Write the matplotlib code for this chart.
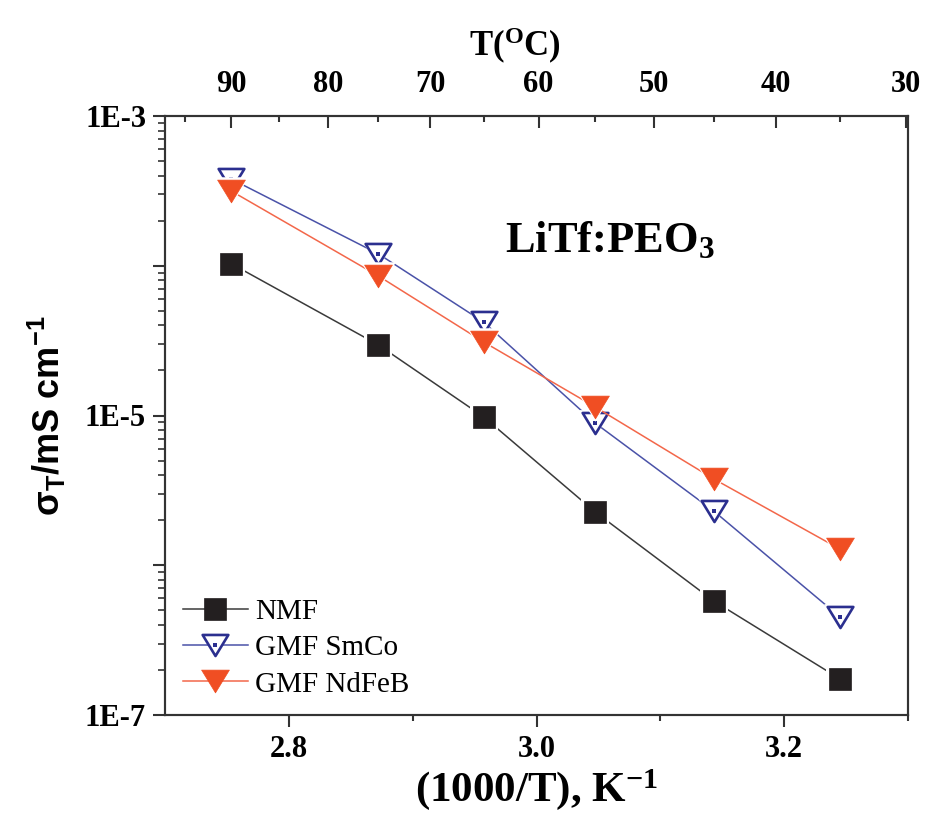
import numpy as np
import matplotlib
matplotlib.use("Agg")
import matplotlib.pyplot as plt
from matplotlib.path import Path
from matplotlib.lines import Line2D
from matplotlib.legend_handler import HandlerTuple
from matplotlib.font_manager import FontProperties

# Measurement temperatures (deg C) and conductivities (mS/cm)
temps_c = [90, 75, 65, 55, 45, 35]
nmf = [1.03e-4, 2.96e-5, 9.8e-6, 2.27e-6, 5.77e-7, 1.74e-7]
gmf_smco = [3.79e-4, 1.20e-4, 4.21e-5, 8.9e-6, 2.30e-6, 4.51e-7]
gmf_ndfeb = [3.15e-4, 8.55e-5, 3.10e-5, 1.14e-5, 3.77e-6, 1.28e-6]

top_major_c = [90, 80, 70, 60, 50, 40, 30]
top_minor_c = [95, 85, 75, 65, 55, 45, 35]
y_major = [1e-7, 1e-6, 1e-5, 1e-4, 1e-3]
y_major_labels = ["1E-7", "", "1E-5", "", "1E-3"]

inv_t = 1000.0 / (np.array(temps_c) + 273.15)

plt.rcParams["font.family"] = ["Liberation Serif", "DejaVu Serif"]
plt.rcParams["font.weight"] = "bold"

BLACK = "#231f20"
BLACK_LINE = "#3a3a3a"
BLUE = "#2b2f8f"
BLUE_LINE = "#4a52a8"
RED = "#f04e23"
RED_LINE = "#f3674a"
AXC = "#333333"

# wide, flat triangle (Origin style)
tri = Path([(-1.0, 0.82), (1.0, 0.82), (0.0, -0.82), (-1.0, 0.82)],
           [Path.MOVETO, Path.LINETO, Path.LINETO, Path.CLOSEPOLY])

fig = plt.figure(figsize=(9.25, 8.16), dpi=100)
ax = fig.add_axes([165 / 925, 1 - 715 / 816, (908 - 165) / 925, (715 - 116) / 816])
ax.set_yscale("log")

def series(y, line_c, marker, ms, face, edge, mew, z):
    ax.plot(inv_t, y, "-", color=line_c, lw=1.1, zorder=z)
    ax.plot(inv_t, y, ls="none", marker=marker, ms=ms + 5, mfc="white",
            mec="white", mew=0, zorder=z + 0.1)
    ax.plot(inv_t, y, ls="none", marker=marker, ms=ms, mfc=face,
            mec=edge, mew=mew, zorder=z + 0.2)

series(nmf, BLACK_LINE, "s", 15.5, BLACK, BLACK, 0.5, 3)
series(gmf_smco, BLUE_LINE, tri, 18.5, "white", BLUE, 1.9, 4)
ax.plot(inv_t, gmf_smco, ls="none", marker="s", ms=2.3, mfc=BLUE, mec=BLUE,
        mew=0, zorder=4.3)
series(gmf_ndfeb, RED_LINE, tri, 20, RED, RED, 0.5, 5)

ax.set_xlim(2.7, 3.3)
ax.set_ylim(1e-7, 1e-3)
ax.set_xticks([2.8, 3.0, 3.2])
ax.set_xticklabels(["2.8", "3.0", "3.2"])
ax.set_xticks([2.9, 3.1, 3.3], minor=True)
ax.set_yticks(y_major)
ax.set_yticklabels(y_major_labels)
ax.yaxis.set_minor_locator(matplotlib.ticker.LogLocator(base=10, subs=np.arange(2, 10)))
ax.yaxis.set_minor_formatter(matplotlib.ticker.NullFormatter())

for s in ax.spines.values():
    s.set_linewidth(1.5)
    s.set_color(AXC)

ax.tick_params(axis="x", which="major", direction="out", length=8.6, width=1.5,
               color=AXC, labelsize=22, pad=6, top=False)
ax.tick_params(axis="x", which="minor", direction="out", length=4.3, width=1.5,
               color=AXC, top=False)
ax.tick_params(axis="y", which="major", direction="out", length=8.6, width=1.5,
               color=AXC, labelsize=22, pad=5, right=False)
ax.tick_params(axis="y", which="minor", direction="out", length=5, width=1.2,
               color=AXC, right=False)

ax.set_xlabel(r"(1000/T), $\mathregular{K^{-1}}$", fontsize=31,
              fontweight="bold", labelpad=2)
ax.set_ylabel(r"$\mathregular{σ_T}$/mS $\mathregular{cm^{-1}}$", fontsize=26,
              fontweight="bold", family=["Liberation Sans", "DejaVu Sans"],
              labelpad=12)

# temperature scale on top
ax2 = ax.twiny()
ax2.set_xlim(ax.get_xlim())
ax2.set_xticks(1000.0 / (np.array(top_major_c) + 273.15))
ax2.set_xticklabels([str(t) for t in top_major_c])
minor_top = 1000.0 / (np.array(top_minor_c) + 273.15)
ax2.set_xticks(minor_top[(minor_top > 2.7) & (minor_top < 3.3)], minor=True)
ax2.tick_params(axis="x", which="major", direction="in", length=8.6, width=1.5,
                color=AXC, labelsize=22, pad=12)
ax2.tick_params(axis="x", which="minor", direction="in", length=4.3, width=1.5,
                color=AXC)
ax2.set_xlabel(r"$\mathregular{T(^{O}C)}$", fontsize=25, fontweight="bold")
ax2.xaxis.set_label_coords(0.471, 1.1)
for s in ax2.spines.values():
    s.set_linewidth(1.5)
    s.set_color(AXC)

ax.text(0.457, 0.773, r"LiTf:PE$\mathregular{O_3}$", transform=ax.transAxes,
        fontsize=32, fontweight="bold", ha="left", va="baseline")

# legend
h_nmf = Line2D([], [], color=BLACK_LINE, lw=1.1, marker="s", ms=15.5,
               mfc=BLACK, mec=BLACK, mew=0.5)
h_smco = Line2D([], [], color=BLUE_LINE, lw=1.1, marker=tri, ms=18.5,
                mfc="white", mec=BLUE, mew=1.9)
h_dot = Line2D([], [], ls="none", marker="s", ms=2.3, mfc=BLUE, mec=BLUE, mew=0)
h_nd = Line2D([], [], color=RED_LINE, lw=1.1, marker=tri, ms=20,
              mfc=RED, mec=RED, mew=0.5)
leg = ax.legend([h_nmf, (h_smco, h_dot), h_nd], ["NMF", "GMF SmCo", "GMF NdFeB"],
                handler_map={tuple: HandlerTuple(ndivide=1, pad=0)},
                loc="lower left", bbox_to_anchor=(0.0, 0.0), frameon=False,
                prop=FontProperties(family="Liberation Serif", weight="normal", size=21),
                handlelength=2.25, handletextpad=0.25, labelspacing=0.33,
                borderaxespad=0.3, borderpad=0.3)

fig.savefig("out.png", dpi=100)
